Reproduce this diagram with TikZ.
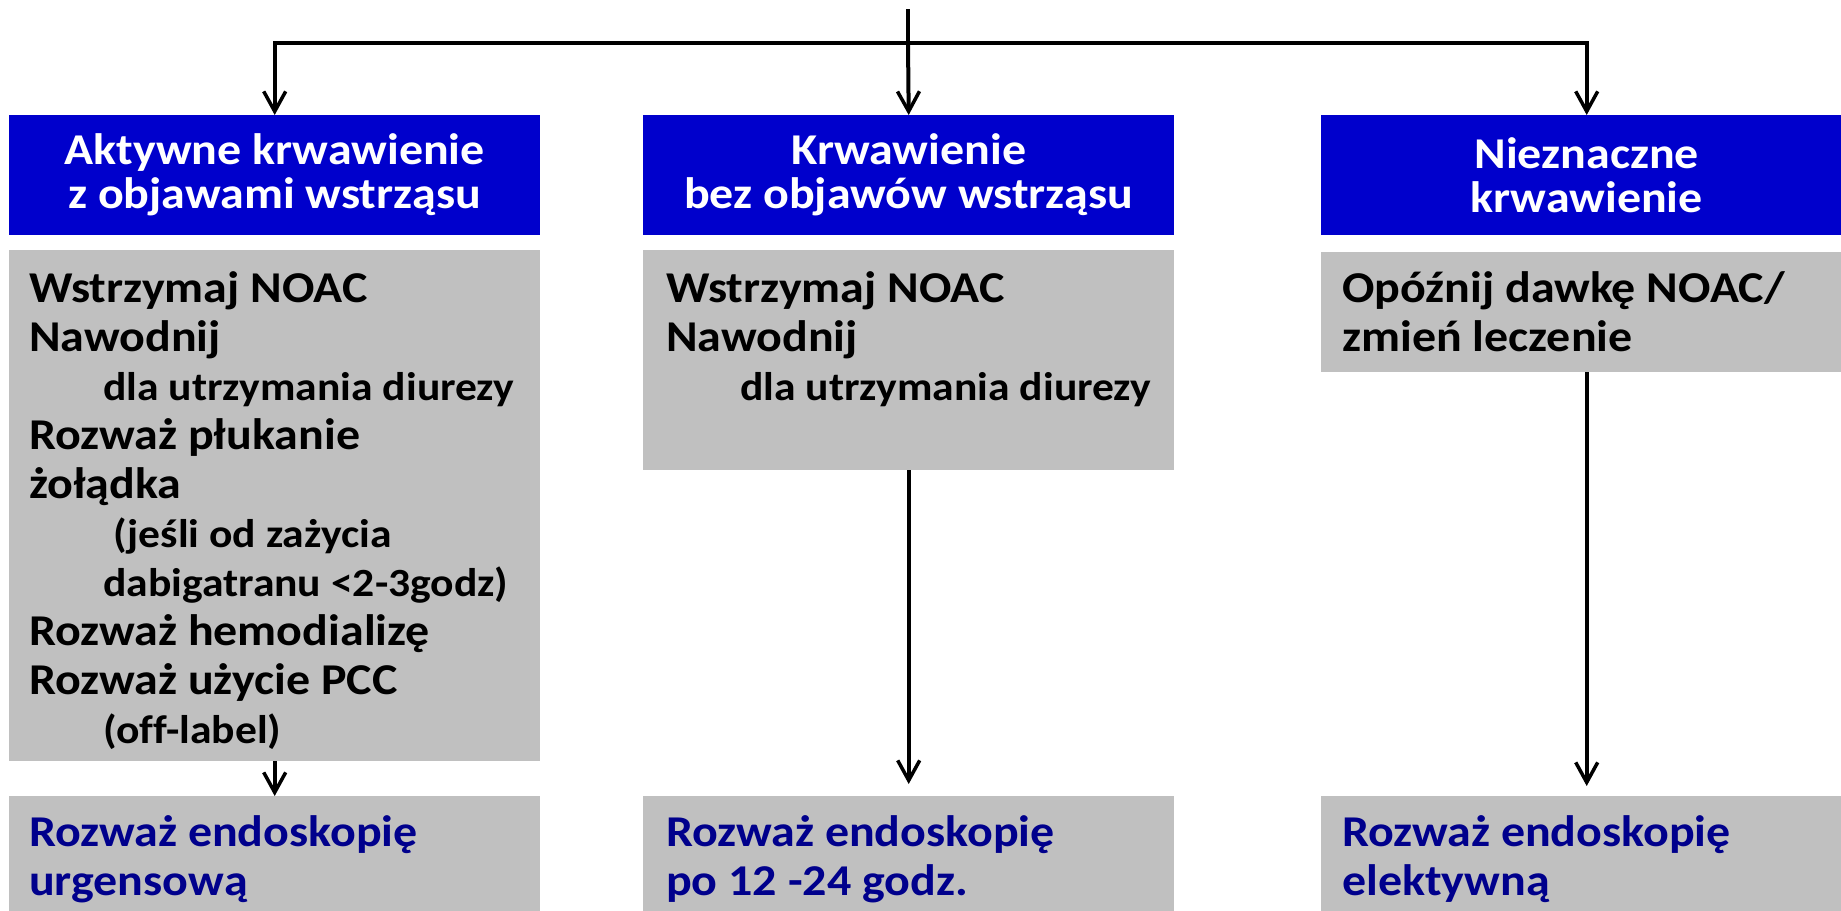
\documentclass[tikz,border=0pt]{standalone}
\usepackage{fontspec}
\setmainfont{Carlito}[FakeStretch=1.09,Ligatures=NoCommon]
\usetikzlibrary{arrows.meta}

\definecolor{headblue}{RGB}{0,0,204}
\definecolor{boxgray}{RGB}{192,192,192}
\definecolor{navy}{RGB}{0,0,140}

\newcommand{\detail}[1]{\hspace*{74pt}{\fontsize{40}{49}\selectfont #1}}

\begin{document}
\begin{tikzpicture}[x=1pt,y=-1pt,
  head/.style={fill=headblue,text=white,anchor=north west,inner sep=0pt,
    minimum width=531pt,minimum height=120pt,align=center,
    font=\fontsize{44}{44}\selectfont\bfseries},
  plate/.style={fill=boxgray,anchor=north west,inner sep=0pt,minimum width=531pt},
  body/.style={anchor=north west,inner sep=0pt,align=left,
    font=\fontsize{44}{49}\selectfont\bfseries},
  result/.style={body,text=navy},
  link/.style={line width=4pt},
  arr/.style={link,-{Straight Barb[length=20pt,width=22pt,line width=3.5pt]}}]
  \useasboundingbox (0,0) rectangle (1841,910);
  \clip (0,0) rectangle (1841,910);

  % headers
  \node[head] (hd1) at (9,115) {Aktywne krwawienie\\z objawami wstrząsu};
  \node[head] (hd2) at (643,115) {Krwawienie\\bez objawów wstrząsu};
  \node[head] (hd3) at (1321,115) {Nieznaczne\\krwawienie};

  % actions
  \node[plate,minimum height=511pt] (act1) at (9,250) {};
  \node[plate,minimum height=220pt] (act2) at (643,250) {};
  \node[plate,minimum height=120pt] (act3) at (1321,252) {};
  \node[body] (act1txt) at (29,271) {Wstrzymaj NOAC\\
    Nawodnij\\
    \detail{dla utrzymania diurezy}\\
    Rozważ płukanie\\
    żołądka\\
    \detail{\ (jeśli od zażycia}\\
    \detail{dabigatranu <2-3godz)}\\
    Rozważ hemodializę\\
    Rozważ użycie PCC\\
    \detail{(off-label)}};
  \node[body] (act2txt) at (666,271) {Wstrzymaj NOAC\\
    Nawodnij\\
    \detail{dla utrzymania diurezy}};
  \node[body] (act3txt) at (1342,271) {Opóźnij dawkę NOAC/\\
    zmień leczenie};

  % endoscopy
  \node[plate,minimum height=130pt] (res1) at (9,796) {};
  \node[plate,minimum height=130pt] (res2) at (643,796) {};
  \node[plate,minimum height=130pt] (res3) at (1321,796) {};
  \node[result] (res1txt) at (29,815) {Rozważ endoskopię\\urgensową};
  \node[result] (res2txt) at (666,815) {Rozważ endoskopię\\po 12 -24 godz.};
  \node[result] (res3txt) at (1342,815) {Rozważ endoskopię\\elektywną};

  % connectors
  \coordinate (src) at (908,9);
  \coordinate (fork) at (908,43);
  \draw[link] (src) -- (fork);
  \draw[link,line cap=rect] (hd1.north |- fork) -- (hd3.north |- fork);
  \draw[arr] (fork) -- (hd2.north);
  \draw[arr] (hd1.north |- fork) -- (hd1.north);
  \draw[arr] (hd3.north |- fork) -- (hd3.north);
  \draw[arr] (act1.south) -- (res1.north);
  \draw[arr,shorten >=12pt] (act2.south) -- (res2.north);
  \draw[arr,shorten >=10pt] (act3.south) -- (res3.north);
\end{tikzpicture}
\end{document}
